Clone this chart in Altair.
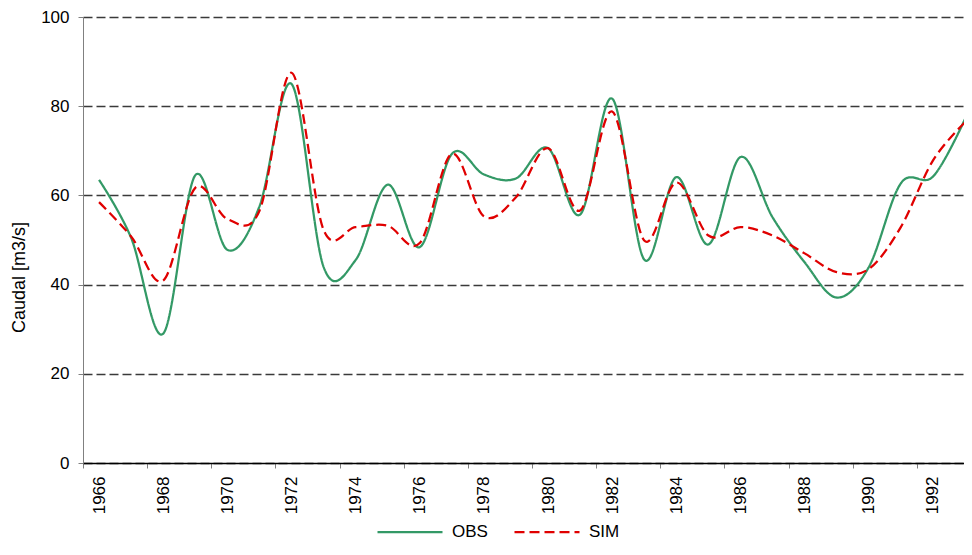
import altair as alt
import pandas as pd

years = list(range(1966, 1994))
obs = [63.5, 50.5, 29.0, 64.5, 47.8, 57.5, 85.0, 44.0, 45.5, 62.4, 48.4, 69.3, 64.7, 63.8,
       70.6, 55.7, 81.7, 45.6, 64.1, 49.0, 68.6, 55.1, 45.0, 37.1, 43.9, 62.7, 64.2, 77.1]
sim = [58.5, 50.8, 40.9, 61.7, 54.7, 56.5, 87.5, 52.3, 52.9, 53.2, 49.3, 69.3, 55.3, 59.6,
       70.6, 56.6, 78.8, 49.9, 62.9, 51.0, 52.9, 51.0, 47.0, 42.8, 43.5, 52.9, 67.8, 76.4]
series = ["OBS", "SIM"]
colors = ["#339966", "#E00000"]
dashes = [[1, 0], [10, 5]]
year_labels = [y for y in years if y % 2 == 0]
y_ticks = [0, 20, 40, 60, 80, 100]

rows = []
for i, yr in enumerate(years):
    rows.append({"year": yr, "serie": "OBS", "caudal": obs[i]})
    rows.append({"year": yr, "serie": "SIM", "caudal": sim[i]})
df = pd.DataFrame(rows)

FONT = "Arial, Liberation Sans"
RANGE_W = 898
STEP = RANGE_W / len(years)

chart = alt.Chart(df).mark_line(interpolate="cardinal", tension=0, strokeWidth=2.25).encode(
    x=alt.X("year:O", bandPosition=0.5,
            scale=alt.Scale(type="band", paddingInner=0, paddingOuter=0, range=[0, RANGE_W]),
            axis=alt.Axis(values=year_labels, title=None, labelAngle=270,
                          tickOffset=-STEP / 2, labelOffset=STEP / 2,
                          labelFontSize=17, labelColor="#000", labelFont=FONT,
                          labelPadding=8, tickSize=5, tickColor="#808080",
                          domainColor="#000", domainWidth=1.3, grid=False)),
    y=alt.Y("caudal:Q", scale=alt.Scale(domain=[0, 100], nice=False),
            axis=alt.Axis(values=y_ticks, title="Caudal [m3/s]", titleFontSize=18,
                          titleFont=FONT, titleFontWeight="normal", titleColor="#000",
                          titleAngle=270, titleAlign="center", titleBaseline="alphabetic",
                          titleX=-59, titleY=260,
                          labelFontSize=17, labelFont=FONT, labelColor="#000",
                          labelPadding=9, tickSize=5, tickColor="#808080",
                          domainColor="#808080", grid=True, gridColor="#3a3a3a",
                          gridDash=[9, 4], gridWidth=1.4)),
    color=alt.Color("serie:N", scale=alt.Scale(domain=series, range=colors),
                    legend=alt.Legend(title=None, orient="none", legendX=293, legendY=481,
                                      direction="horizontal", symbolType="stroke",
                                      symbolSize=4225, symbolStrokeWidth=2.25,
                                      labelFontSize=17, labelFont=FONT, labelColor="#000",
                                      columnPadding=22, labelOffset=8)),
    strokeDash=alt.StrokeDash("serie:N", scale=alt.Scale(domain=series, range=dashes),
                              legend=None),
    detail="serie:N",
).properties(
    width=881, height=446,
    autosize=alt.AutoSizeParams(type="none"),
    padding={"left": 75, "top": 9, "right": 0, "bottom": 79},
).configure_view(stroke=None)

chart.save("out.html", embed_options={"renderer": "svg", "actions": False})
